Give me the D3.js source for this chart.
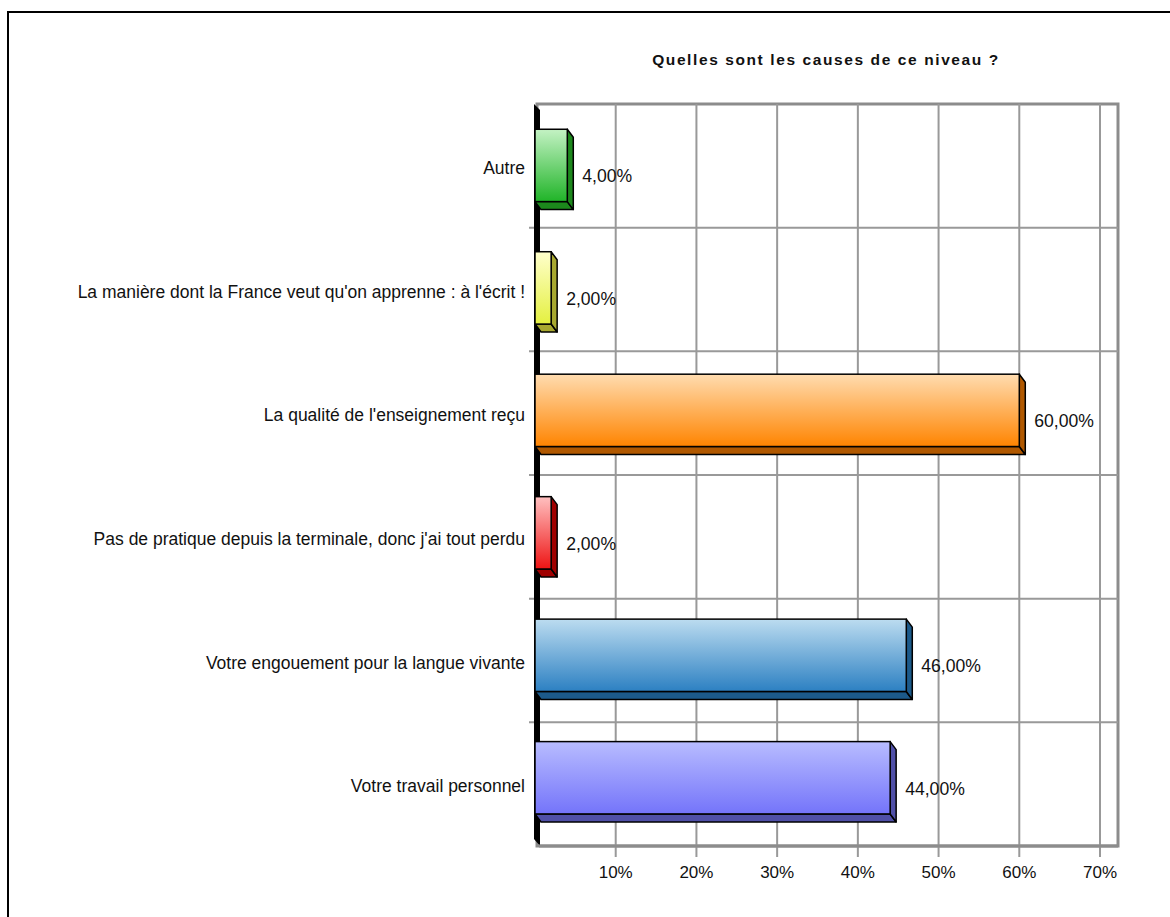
<!DOCTYPE html>
<html><head><meta charset="utf-8">
<script src="https://cdn.jsdelivr.net/npm/d3@7"></script>
<style>body{margin:0;background:#fff}svg{display:block}text{font-family:"Liberation Sans",Arial,sans-serif;fill:#111}</style>
</head><body><svg id="c" width="1170" height="917"></svg>
<script>
const title = "Quelles sont les causes de ce niveau ?";
const categories = ["Autre","La manière dont la France veut qu'on apprenne : à l'écrit !","La qualité de l'enseignement reçu","Pas de pratique depuis la terminale, donc j'ai tout perdu","Votre engouement pour la langue vivante","Votre travail personnel"];
const values = [0.04, 0.02, 0.60, 0.02, 0.46, 0.44];
const valueLabels = ["4,00%","2,00%","60,00%","2,00%","46,00%","44,00%"];
const tickValues = [0.1,0.2,0.3,0.4,0.5,0.6,0.7];
const tickLabels = ["10%","20%","30%","40%","50%","60%","70%"];
const colorsTop = ["#c4f2c4","#ffffcc","#ffdcb0","#ffc0c0","#bcdcf0","#b8bcff"];
const colorsBottom = ["#20b428","#e4f040","#ff8400","#ee1414","#2c80c2","#7474fa"];
const colorsSide = ["#1c881c","#a8a830","#b05800","#a00000","#1c5a8a","#5050a8"];

const svg = d3.select("#c");
const pTop = 104, pBottom = 846, pLeft = 535, pRight = 1118;
const x = d3.scaleLinear().domain([0,0.7]).range([535,1100]);
const y = d3.scaleBand().domain(categories).range([pTop,pBottom]);
const dx = 6, dy = 8;

// outer frame
svg.append("rect").attr("x",8).attr("y",12).attr("width",1200).attr("height",950)
  .attr("fill","none").attr("stroke","#000").attr("stroke-width",2);

svg.append("text").attr("x",826).attr("y",65).attr("text-anchor","middle")
  .attr("font-weight","bold").attr("font-size",15.5).attr("letter-spacing",1.6).text(title);

const defs = svg.append("defs");
categories.forEach((c,i)=>{
  const g = defs.append("linearGradient").attr("id","g"+i).attr("x1",0).attr("y1",0).attr("x2",0).attr("y2",1);
  g.append("stop").attr("offset","0%").attr("stop-color",colorsTop[i]);
  g.append("stop").attr("offset","100%").attr("stop-color",colorsBottom[i]);
});

// back wall
svg.append("rect").attr("x",pLeft+2).attr("y",pTop).attr("width",pRight-pLeft-2).attr("height",pBottom-pTop)
  .attr("fill","#fff").attr("stroke","#8c8c8c").attr("stroke-width",3);
// vertical gridlines
svg.selectAll(".vg").data(tickValues).enter().append("line")
  .attr("x1",d=>x(d)).attr("x2",d=>x(d)).attr("y1",pTop).attr("y2",pBottom+11)
  .attr("stroke","#999").attr("stroke-width",2);
// horizontal gridlines
const bounds = categories.slice(1).map(c=>y(c));
svg.selectAll(".hg").data(bounds).enter().append("line")
  .attr("x1",pLeft-6).attr("x2",pRight).attr("y1",d=>d).attr("y2",d=>d)
  .attr("stroke","#999").attr("stroke-width",2);
// left floor wall (black)
svg.append("path").attr("d",`M${pLeft-1},${pTop} L${pLeft+5},${pTop+6} L${pLeft+5},${pBottom} L${pLeft-1},${pBottom-7} Z`)
  .attr("fill","#000");
svg.append("line").attr("x1",pLeft+4).attr("x2",pRight).attr("y1",pBottom).attr("y2",pBottom)
  .attr("stroke","#8c8c8c").attr("stroke-width",3);

// tick labels
svg.selectAll(".tl").data(tickValues).enter().append("text")
  .attr("x",d=>x(d)).attr("y",878).attr("text-anchor","middle").attr("font-size",17)
  .text((d,i)=>tickLabels[i]);

// category labels
svg.selectAll(".cl").data(categories).enter().append("text")
  .attr("x",525).attr("y",c=>y(c)+y.bandwidth()/2+8).attr("text-anchor","end").attr("font-size",17.5)
  .text(c=>c);

// bars
const bw = y.bandwidth();
categories.forEach((c,i)=>{
  const yt = y(c) + bw*0.18 + (2.5-i)*1.2;
  const yb = yt + bw*0.585;
  const x0 = x(0), xr = x(values[i]);
  const g = svg.append("g");
  g.append("path").attr("d",`M${x0},${yb} L${xr},${yb} L${xr+dx},${yb+dy} L${x0+dx},${yb+dy} Z`)
    .attr("fill",colorsSide[i]).attr("stroke","#000").attr("stroke-width",1.5).attr("stroke-linejoin","round");
  g.append("path").attr("d",`M${xr},${yt} L${xr+dx},${yt+dy} L${xr+dx},${yb+dy} L${xr},${yb} Z`)
    .attr("fill",colorsSide[i]).attr("stroke","#000").attr("stroke-width",1.5).attr("stroke-linejoin","round");
  g.append("rect").attr("x",x0).attr("y",yt).attr("width",xr-x0).attr("height",yb-yt)
    .attr("fill",`url(#g${i})`).attr("stroke","#000").attr("stroke-width",1.5);
  svg.append("text").attr("x",xr+dx+9).attr("y",(yt+yb)/2+17).attr("font-size",17.6)
    .text(valueLabels[i]);
});
</script></body></html>
